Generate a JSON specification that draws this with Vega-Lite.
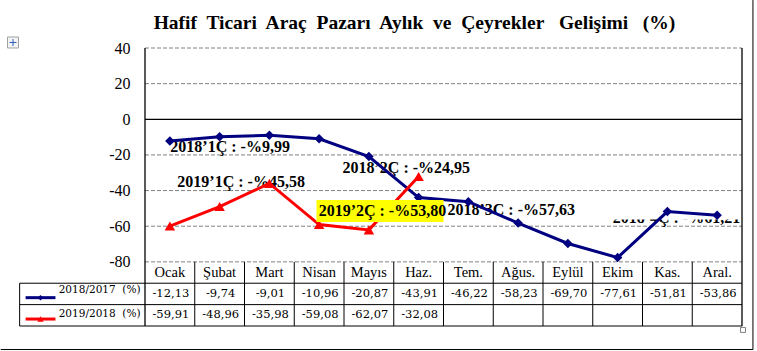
{
  "$schema": "https://vega.github.io/schema/vega-lite/v6.json",
  "width": 597,
  "height": 278,
  "autosize": {"type": "none"},
  "padding": {"left": 145, "top": 48, "right": 15, "bottom": 25},
  "background": "white",
  "config": {
    "view": {"stroke": null},
    "axisY": {"grid": false, "domain": false, "ticks": false, "labelFont": "Liberation Serif", "labelFontSize": 16, "labelColor": "#000", "labelPadding": 15}
  },
  "title": {
    "text": "Hafif\u00a0 Ticari\u00a0 Araç\u00a0 Pazarı\u00a0 Aylık\u00a0 ve\u00a0 Çeyrekler\u00a0\u00a0 Gelişimi\u00a0\u00a0 (%)",
    "font": "Liberation Serif", "fontSize": 19.5, "fontWeight": "bold", "color": "#000",
    "anchor": "middle", "dx": -29, "offset": 0, "dy": 34
  },
  "datasets": {
    "months": [
      {"month": "Ocak", "m": 1}, {"month": "Şubat", "m": 2}, {"month": "Mart", "m": 3},
      {"month": "Nisan", "m": 4}, {"month": "Mayıs", "m": 5}, {"month": "Haz.", "m": 6},
      {"month": "Tem.", "m": 7}, {"month": "Ağus.", "m": 8}, {"month": "Eylül", "m": 9},
      {"month": "Ekim", "m": 10}, {"month": "Kas.", "m": 11}, {"month": "Aral.", "m": 12}
    ],
    "vals": [
      {"month": "Ocak", "m": 1, "series": "2018/2017", "v": -12.13},
      {"month": "Şubat", "m": 2, "series": "2018/2017", "v": -9.74},
      {"month": "Mart", "m": 3, "series": "2018/2017", "v": -9.01},
      {"month": "Nisan", "m": 4, "series": "2018/2017", "v": -10.96},
      {"month": "Mayıs", "m": 5, "series": "2018/2017", "v": -20.87},
      {"month": "Haz.", "m": 6, "series": "2018/2017", "v": -43.91},
      {"month": "Tem.", "m": 7, "series": "2018/2017", "v": -46.22},
      {"month": "Ağus.", "m": 8, "series": "2018/2017", "v": -58.23},
      {"month": "Eylül", "m": 9, "series": "2018/2017", "v": -69.70},
      {"month": "Ekim", "m": 10, "series": "2018/2017", "v": -77.61},
      {"month": "Kas.", "m": 11, "series": "2018/2017", "v": -51.81},
      {"month": "Aral.", "m": 12, "series": "2018/2017", "v": -53.86},
      {"month": "Ocak", "m": 1, "series": "2019/2018", "v": -59.91},
      {"month": "Şubat", "m": 2, "series": "2019/2018", "v": -48.96},
      {"month": "Mart", "m": 3, "series": "2019/2018", "v": -35.98},
      {"month": "Nisan", "m": 4, "series": "2019/2018", "v": -59.08},
      {"month": "Mayıs", "m": 5, "series": "2019/2018", "v": -62.07},
      {"month": "Haz.", "m": 6, "series": "2019/2018", "v": -32.08}
    ],
    "notes": [
      {"label": "2018’1Ç : -%9,99", "m": 1.01, "v": -15.6},
      {"label": "2018’2Ç : -%24,95", "m": 4.47, "v": -27.3},
      {"label": "2019’1Ç : -%45,58", "m": 1.15, "v": -35.2},
      {"label": "2018’3C : -%57,63", "m": 6.58, "v": -50.9}
    ]
  },
  "layer": [
    {
      "data": {"values": [{"g": 40}, {"g": 20}, {"g": -20}, {"g": -40}, {"g": -60}, {"g": -80}]},
      "mark": {"type": "rule", "color": "#808080", "strokeDash": [4, 2], "strokeWidth": 1},
      "encoding": {
        "y": {"field": "g", "type": "quantitative", "scale": {"domain": [-116, 40], "nice": false, "zero": false},
          "axis": {"values": [-80, -60, -40, -20, 0, 20, 40], "title": null, "labelExpr": "'' + datum.value", "labelFont": "Liberation Serif", "labelFontSize": 16, "labelColor": "#000", "labelPadding": 15}},
        "x": {"datum": 0.5, "type": "quantitative", "scale": {"domain": [0.5, 12.5], "nice": false, "zero": false}, "axis": null},
        "x2": {"datum": 12.5}
      }
    },
    {
      "data": {"values": [{}]},
      "mark": {"type": "text", "text": "2018’4Ç : -%61,21", "font": "Liberation Serif", "fontSize": 16, "fontWeight": "bold", "align": "left", "baseline": "alphabetic", "color": "#000"},
      "encoding": {"x": {"datum": 9.9, "type": "quantitative", "axis": null}, "y": {"datum": -58.2, "type": "quantitative", "axis": {"values": [-80, -60, -40, -20, 0, 20, 40], "title": null, "labelExpr": "'' + datum.value", "labelFont": "Liberation Serif", "labelFontSize": 16, "labelColor": "#000", "labelPadding": 15}}}
    },
    {
      "data": {"values": [{}]},
      "mark": {"type": "rect", "color": "white"},
      "encoding": {"x": {"datum": 9.8, "type": "quantitative", "axis": null}, "x2": {"datum": 12.45}, "y": {"datum": -45, "type": "quantitative", "axis": {"values": [-80, -60, -40, -20, 0, 20, 40], "title": null, "labelExpr": "'' + datum.value", "labelFont": "Liberation Serif", "labelFontSize": 16, "labelColor": "#000", "labelPadding": 15}}, "y2": {"datum": -56.2}}
    },
    {
      "data": {"values": [{}]},
      "mark": {"type": "rule", "color": "#000", "strokeWidth": 1.3},
      "encoding": {"x": {"datum": 0.5, "type": "quantitative", "axis": null}, "x2": {"datum": 12.5}, "y": {"datum": 0, "type": "quantitative", "axis": {"values": [-80, -60, -40, -20, 0, 20, 40], "title": null, "labelExpr": "'' + datum.value", "labelFont": "Liberation Serif", "labelFontSize": 16, "labelColor": "#000", "labelPadding": 15}}}
    },
    {
      "data": {"values": [{}]},
      "mark": {"type": "rule", "color": "#000", "strokeWidth": 1.3},
      "encoding": {"x": {"datum": 0.5, "type": "quantitative", "axis": null}, "y": {"datum": 40, "type": "quantitative", "axis": {"values": [-80, -60, -40, -20, 0, 20, 40], "title": null, "labelExpr": "'' + datum.value", "labelFont": "Liberation Serif", "labelFontSize": 16, "labelColor": "#000", "labelPadding": 15}}, "y2": {"datum": -116}}
    },
    {
      "data": {"values": [{}]},
      "mark": {"type": "rule", "color": "#000", "strokeWidth": 1.3},
      "encoding": {"x": {"datum": 12.5, "type": "quantitative", "axis": null}, "y": {"datum": 40, "type": "quantitative", "axis": {"values": [-80, -60, -40, -20, 0, 20, 40], "title": null, "labelExpr": "'' + datum.value", "labelFont": "Liberation Serif", "labelFontSize": 16, "labelColor": "#000", "labelPadding": 15}}, "y2": {"datum": -116}}
    },
    {
      "data": {"name": "months"},
      "transform": [{"calculate": "datum.m - 0.5", "as": "edge"}, {"filter": "datum.edge > 0.5"}],
      "mark": {"type": "rule", "color": "#000", "strokeWidth": 1},
      "encoding": {"x": {"field": "edge", "type": "quantitative", "axis": null}, "y": {"datum": -80, "type": "quantitative", "axis": {"values": [-80, -60, -40, -20, 0, 20, 40], "title": null, "labelExpr": "'' + datum.value", "labelFont": "Liberation Serif", "labelFontSize": 16, "labelColor": "#000", "labelPadding": 15}}, "y2": {"datum": -116}}
    },
    {
      "data": {"values": [{}]},
      "mark": {"type": "rule", "color": "#000", "strokeWidth": 1},
      "encoding": {"x": {"datum": -2.02, "type": "quantitative", "axis": null}, "x2": {"datum": 12.5}, "y": {"datum": -92, "type": "quantitative", "axis": {"values": [-80, -60, -40, -20, 0, 20, 40], "title": null, "labelExpr": "'' + datum.value", "labelFont": "Liberation Serif", "labelFontSize": 16, "labelColor": "#000", "labelPadding": 15}}}
    },
    {
      "data": {"values": [{}]},
      "mark": {"type": "rule", "color": "#000", "strokeWidth": 1},
      "encoding": {"x": {"datum": -2.02, "type": "quantitative", "axis": null}, "x2": {"datum": 12.5}, "y": {"datum": -104, "type": "quantitative", "axis": {"values": [-80, -60, -40, -20, 0, 20, 40], "title": null, "labelExpr": "'' + datum.value", "labelFont": "Liberation Serif", "labelFontSize": 16, "labelColor": "#000", "labelPadding": 15}}}
    },
    {
      "data": {"values": [{}]},
      "mark": {"type": "rule", "color": "#000", "strokeWidth": 1},
      "encoding": {"x": {"datum": -2.02, "type": "quantitative", "axis": null}, "x2": {"datum": 12.5}, "y": {"datum": -116, "type": "quantitative", "axis": {"values": [-80, -60, -40, -20, 0, 20, 40], "title": null, "labelExpr": "'' + datum.value", "labelFont": "Liberation Serif", "labelFontSize": 16, "labelColor": "#000", "labelPadding": 15}}}
    },
    {
      "data": {"values": [{}]},
      "mark": {"type": "rule", "color": "#000", "strokeWidth": 1},
      "encoding": {"x": {"datum": -2.02, "type": "quantitative", "axis": null}, "y": {"datum": -92, "type": "quantitative", "axis": {"values": [-80, -60, -40, -20, 0, 20, 40], "title": null, "labelExpr": "'' + datum.value", "labelFont": "Liberation Serif", "labelFontSize": 16, "labelColor": "#000", "labelPadding": 15}}, "y2": {"datum": -116}}
    },
    {
      "data": {"values": [{}]},
      "mark": {"type": "rule", "color": "#000", "strokeWidth": 1},
      "encoding": {"x": {"datum": 12.72, "type": "quantitative", "axis": null}, "y": {"datum": 66.9, "type": "quantitative", "axis": {"values": [-80, -60, -40, -20, 0, 20, 40], "title": null, "labelExpr": "'' + datum.value", "labelFont": "Liberation Serif", "labelFontSize": 16, "labelColor": "#000", "labelPadding": 15}}, "y2": {"datum": -129.2}}
    },
    {
      "data": {"values": [{}]},
      "mark": {"type": "rule", "color": "#000", "strokeWidth": 1},
      "encoding": {"x": {"datum": -2.4, "type": "quantitative", "axis": null}, "x2": {"datum": 12.72}, "y": {"datum": -129.2, "type": "quantitative", "axis": {"values": [-80, -60, -40, -20, 0, 20, 40], "title": null, "labelExpr": "'' + datum.value", "labelFont": "Liberation Serif", "labelFontSize": 16, "labelColor": "#000", "labelPadding": 15}}}
    },
    {
      "data": {"name": "notes"},
      "mark": {"type": "text", "font": "Liberation Serif", "fontSize": 16, "fontWeight": "bold", "align": "left", "baseline": "middle", "color": "#000"},
      "encoding": {"x": {"field": "m", "type": "quantitative", "axis": null}, "y": {"field": "v", "type": "quantitative", "axis": {"values": [-80, -60, -40, -20, 0, 20, 40], "title": null, "labelExpr": "'' + datum.value", "labelFont": "Liberation Serif", "labelFontSize": 16, "labelColor": "#000", "labelPadding": 15}}, "text": {"field": "label"}}
    },
    {
      "data": {"name": "vals"},
      "transform": [{"filter": "datum.series == '2018/2017'"}],
      "mark": {"type": "line", "color": "#000080", "strokeWidth": 3},
      "encoding": {"x": {"field": "m", "type": "quantitative", "axis": null}, "y": {"field": "v", "type": "quantitative", "axis": {"values": [-80, -60, -40, -20, 0, 20, 40], "title": null, "labelExpr": "'' + datum.value", "labelFont": "Liberation Serif", "labelFontSize": 16, "labelColor": "#000", "labelPadding": 15}}}
    },
    {
      "data": {"name": "vals"},
      "transform": [{"filter": "datum.series == '2019/2018'"}],
      "mark": {"type": "line", "color": "#ff0000", "strokeWidth": 3},
      "encoding": {"x": {"field": "m", "type": "quantitative", "axis": null}, "y": {"field": "v", "type": "quantitative", "axis": {"values": [-80, -60, -40, -20, 0, 20, 40], "title": null, "labelExpr": "'' + datum.value", "labelFont": "Liberation Serif", "labelFontSize": 16, "labelColor": "#000", "labelPadding": 15}}}
    },
    {
      "data": {"name": "vals"},
      "transform": [{"filter": "datum.series == '2018/2017'"}],
      "mark": {"type": "point", "shape": "diamond", "filled": true, "color": "#000080", "size": 90, "opacity": 1},
      "encoding": {"x": {"field": "m", "type": "quantitative", "axis": null}, "y": {"field": "v", "type": "quantitative", "axis": {"values": [-80, -60, -40, -20, 0, 20, 40], "title": null, "labelExpr": "'' + datum.value", "labelFont": "Liberation Serif", "labelFontSize": 16, "labelColor": "#000", "labelPadding": 15}}}
    },
    {
      "data": {"name": "vals"},
      "transform": [{"filter": "datum.series == '2019/2018'"}],
      "mark": {"type": "point", "shape": "triangle-up", "filled": true, "color": "#ff0000", "size": 110, "opacity": 1},
      "encoding": {"x": {"field": "m", "type": "quantitative", "axis": null}, "y": {"field": "v", "type": "quantitative", "axis": {"values": [-80, -60, -40, -20, 0, 20, 40], "title": null, "labelExpr": "'' + datum.value", "labelFont": "Liberation Serif", "labelFontSize": 16, "labelColor": "#000", "labelPadding": 15}}}
    },
    {
      "data": {"values": [{}]},
      "mark": {"type": "rect", "color": "#ffff00"},
      "encoding": {"x": {"datum": 3.947, "type": "quantitative", "axis": null}, "x2": {"datum": 6.5}, "y": {"datum": -45.3, "type": "quantitative", "axis": {"values": [-80, -60, -40, -20, 0, 20, 40], "title": null, "labelExpr": "'' + datum.value", "labelFont": "Liberation Serif", "labelFontSize": 16, "labelColor": "#000", "labelPadding": 15}}, "y2": {"datum": -57.6}}
    },
    {
      "data": {"values": [{"label": "2019’2Ç : -%53,80", "m": 3.99, "v": -51.5}]},
      "mark": {"type": "text", "font": "Liberation Serif", "fontSize": 16, "fontWeight": "bold", "align": "left", "baseline": "middle", "color": "#000"},
      "encoding": {"x": {"field": "m", "type": "quantitative", "axis": null}, "y": {"field": "v", "type": "quantitative", "axis": {"values": [-80, -60, -40, -20, 0, 20, 40], "title": null, "labelExpr": "'' + datum.value", "labelFont": "Liberation Serif", "labelFontSize": 16, "labelColor": "#000", "labelPadding": 15}}, "text": {"field": "label"}}
    },
    {
      "data": {"name": "months"},
      "mark": {"type": "text", "font": "Liberation Serif", "fontSize": 14.5, "align": "center", "baseline": "middle", "color": "#000"},
      "encoding": {"x": {"field": "m", "type": "quantitative", "axis": null}, "y": {"datum": -86, "type": "quantitative", "axis": {"values": [-80, -60, -40, -20, 0, 20, 40], "title": null, "labelExpr": "'' + datum.value", "labelFont": "Liberation Serif", "labelFontSize": 16, "labelColor": "#000", "labelPadding": 15}}, "text": {"field": "month"}}
    },
    {
      "data": {"name": "vals"},
      "transform": [
        {"filter": "datum.series == '2018/2017'"},
        {"calculate": "replace(replace(format(datum.v, '.2f'), '.', ','), '−', '-')", "as": "lab"}
      ],
      "mark": {"type": "text", "font": "DejaVu Serif", "fontSize": 11.5, "align": "center", "baseline": "middle", "color": "#000", "dx": 1},
      "encoding": {"x": {"field": "m", "type": "quantitative", "axis": null}, "y": {"datum": -98, "type": "quantitative", "axis": {"values": [-80, -60, -40, -20, 0, 20, 40], "title": null, "labelExpr": "'' + datum.value", "labelFont": "Liberation Serif", "labelFontSize": 16, "labelColor": "#000", "labelPadding": 15}}, "text": {"field": "lab"}}
    },
    {
      "data": {"name": "vals"},
      "transform": [
        {"filter": "datum.series == '2019/2018'"},
        {"calculate": "replace(replace(format(datum.v, '.2f'), '.', ','), '−', '-')", "as": "lab"}
      ],
      "mark": {"type": "text", "font": "DejaVu Serif", "fontSize": 11.5, "align": "center", "baseline": "middle", "color": "#000", "dx": 1},
      "encoding": {"x": {"field": "m", "type": "quantitative", "axis": null}, "y": {"datum": -110, "type": "quantitative", "axis": {"values": [-80, -60, -40, -20, 0, 20, 40], "title": null, "labelExpr": "'' + datum.value", "labelFont": "Liberation Serif", "labelFontSize": 16, "labelColor": "#000", "labelPadding": 15}}, "text": {"field": "lab"}}
    },
    {
      "data": {"values": [{"series": "2018/2017\u00a0 (%)"}]},
      "mark": {"type": "text", "font": "DejaVu Serif", "fontSize": 10.5, "align": "right", "baseline": "middle", "color": "#000"},
      "encoding": {"x": {"datum": 0.41, "type": "quantitative", "axis": null}, "y": {"datum": -95.8, "type": "quantitative", "axis": {"values": [-80, -60, -40, -20, 0, 20, 40], "title": null, "labelExpr": "'' + datum.value", "labelFont": "Liberation Serif", "labelFontSize": 16, "labelColor": "#000", "labelPadding": 15}}, "text": {"field": "series"}}
    },
    {
      "data": {"values": [{"series": "2019/2018\u00a0 (%)"}]},
      "mark": {"type": "text", "font": "DejaVu Serif", "fontSize": 10.5, "align": "right", "baseline": "middle", "color": "#000"},
      "encoding": {"x": {"datum": 0.41, "type": "quantitative", "axis": null}, "y": {"datum": -109.4, "type": "quantitative", "axis": {"values": [-80, -60, -40, -20, 0, 20, 40], "title": null, "labelExpr": "'' + datum.value", "labelFont": "Liberation Serif", "labelFontSize": 16, "labelColor": "#000", "labelPadding": 15}}, "text": {"field": "series"}}
    },
    {
      "data": {"values": [{}]},
      "mark": {"type": "rule", "color": "#000080", "strokeWidth": 3},
      "encoding": {"x": {"datum": -1.9, "type": "quantitative", "axis": null}, "x2": {"datum": -1.3}, "y": {"datum": -100.1, "type": "quantitative", "axis": {"values": [-80, -60, -40, -20, 0, 20, 40], "title": null, "labelExpr": "'' + datum.value", "labelFont": "Liberation Serif", "labelFontSize": 16, "labelColor": "#000", "labelPadding": 15}}}
    },
    {
      "data": {"values": [{}]},
      "mark": {"type": "point", "shape": "diamond", "filled": true, "color": "#000080", "size": 30, "opacity": 1},
      "encoding": {"x": {"datum": -1.6, "type": "quantitative", "axis": null}, "y": {"datum": -100.1, "type": "quantitative", "axis": {"values": [-80, -60, -40, -20, 0, 20, 40], "title": null, "labelExpr": "'' + datum.value", "labelFont": "Liberation Serif", "labelFontSize": 16, "labelColor": "#000", "labelPadding": 15}}}
    },
    {
      "data": {"values": [{}]},
      "mark": {"type": "rule", "color": "#ff0000", "strokeWidth": 3},
      "encoding": {"x": {"datum": -1.9, "type": "quantitative", "axis": null}, "x2": {"datum": -1.3}, "y": {"datum": -112.1, "type": "quantitative", "axis": {"values": [-80, -60, -40, -20, 0, 20, 40], "title": null, "labelExpr": "'' + datum.value", "labelFont": "Liberation Serif", "labelFontSize": 16, "labelColor": "#000", "labelPadding": 15}}}
    },
    {
      "data": {"values": [{}]},
      "mark": {"type": "point", "shape": "triangle-up", "filled": true, "color": "#ff0000", "size": 40, "opacity": 1},
      "encoding": {"x": {"datum": -1.6, "type": "quantitative", "axis": null}, "y": {"datum": -112.1, "type": "quantitative", "axis": {"values": [-80, -60, -40, -20, 0, 20, 40], "title": null, "labelExpr": "'' + datum.value", "labelFont": "Liberation Serif", "labelFontSize": 16, "labelColor": "#000", "labelPadding": 15}}}
    },
    {
      "data": {"values": [{}]},
      "mark": {"type": "point", "shape": "square", "filled": true, "fill": "white", "stroke": "#808080", "strokeWidth": 1, "size": 25, "opacity": 1},
      "encoding": {"x": {"datum": 12.52, "type": "quantitative", "axis": null}, "y": {"datum": -118.2, "type": "quantitative", "axis": {"values": [-80, -60, -40, -20, 0, 20, 40], "title": null, "labelExpr": "'' + datum.value", "labelFont": "Liberation Serif", "labelFontSize": 16, "labelColor": "#000", "labelPadding": 15}}}
    },
    {
      "data": {"values": [{}]},
      "mark": {"type": "point", "shape": "square", "filled": true, "fill": "#f4f4f4", "stroke": "#a0a0a0", "strokeWidth": 1, "size": 121, "opacity": 1},
      "encoding": {"x": {"datum": -2.153, "type": "quantitative", "axis": null}, "y": {"datum": 43.09, "type": "quantitative", "axis": {"values": [-80, -60, -40, -20, 0, 20, 40], "title": null, "labelExpr": "'' + datum.value", "labelFont": "Liberation Serif", "labelFontSize": 16, "labelColor": "#000", "labelPadding": 15}}}
    },
    {
      "data": {"values": [{}]},
      "mark": {"type": "point", "shape": "M-1,0L1,0M0,-1L0,1", "filled": false, "stroke": "#3060c0", "strokeWidth": 1, "size": 49, "opacity": 1},
      "encoding": {"x": {"datum": -2.153, "type": "quantitative", "axis": null}, "y": {"datum": 43.09, "type": "quantitative", "axis": {"values": [-80, -60, -40, -20, 0, 20, 40], "title": null, "labelExpr": "'' + datum.value", "labelFont": "Liberation Serif", "labelFontSize": 16, "labelColor": "#000", "labelPadding": 15}}}
    }
  ]
}
